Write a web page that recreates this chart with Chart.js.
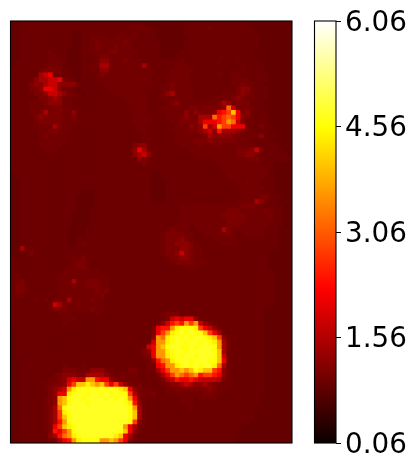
<!DOCTYPE html>
<html>
<head>
<meta charset="utf-8">
<script src="https://cdn.jsdelivr.net/npm/chart.js@4"></script>
<style>
  html, body { margin: 0; padding: 0; background: #fff; }
  #wrap { position: relative; width: 416px; height: 470px; }
  canvas { position: absolute; left: 0; top: 0; }
</style>
</head>
<body>
<div id="wrap">
  <canvas id="heat" width="416" height="470"></canvas>
  <canvas id="bar" width="416" height="470"></canvas>
</div>
<script>
// value levels used by the letters in heatRows
const levelKeys = "abcdefghijklmnopq";
const levelValues = [0.8, 0.87, 0.93, 1.0, 1.08, 1.22, 1.45, 1.75, 2.1, 2.4, 2.8, 3.2, 3.6, 4.0, 4.4, 4.6, 4.75];
const barTicks = [0.06, 1.56, 3.06, 4.56, 6.06];
const vMin = 0.06, vMax = 6.06;
const nCols = 60, nRows = 90;

// one string per row, 60 cells, split in groups of 10
const heatRows = [
"bbcccccccc cccccccccc ccccccccbb bbbbbbbccc cccccccccc cbbbbbbbbb",
"bbcccccccc cccccccccc ccccccdddc cbbbbbbccc ccdccccccc ccbbbbbbbb",
"bbcccccccc cccbbccccc cccdccdccc cbbbbbbccc cccccccccc ccbbbbbbbb",
"bbcccccccc cccbbccddd dcdddddccc cbbbbbbbcc cccccccccc cccbbbbbbb",
"bbcccccccc cccbbccded ddddedcccc ccbbbbbccc cccccccccc cccbbbbbbb",
"bbcccccccc cccbbccded ddedddcccc ccbbbbbccc cccccccccc cccbbbbbbb",
"bbccccccdc ccbbbccddd deeddddccc ccbbbbcccc cccccccccc ccbbbbbbbb",
"bbccccccdd ccbbbcccde edddddcccc ccbbbccccc cccccdcccc ccbbbbbbbb",
"bcccccccdd dcbbbcccdf fdddedddcc ccccccdccc ccccdcccdc cccbbbbbbb",
"bccccccddd dcbbbccddg gdddddddgd cccccdddcc cccccccccd ccccbbbbbb",
"ccccccdeee dccbbccdcf fdddddddcd ccccdddddc cccccccccd ccccbbbbbb",
"ccccccghid dccbbcccde dddddddddd ccccddddcc ccccdccddc cccccbbbbb",
"cccccfgghh iedcbccccd dddddddddd cccdddddcc cccccccddd dccccbbbbb",
"cccceffghh ffffdccccc dddddddddd cccdedddcc cccccccdde ddccbbbbbb",
"cccceefiih fddcbccccc cdddddddcc ccddeddddc ccccccccef fdcccbbbbb",
"ccccceefhh gfddcbcccc ccdddddddc ccdfgddddc cccccdddef edcccbbbbb",
"cccccceefg fddccccccc ccccdddddc ccdddddddc cccddddefe ddcccbbbbb",
"ccccdddeff fddccccccc cccccddddc cccdefdddd ddddegfdee ecccbbbbbb",
"ccccddddde eddccccccc ccccccdddc ccddddddee deeeeflhed edcccbbbbb",
"ccccddegee eddfcccccc ccccccdddc cccddddfdf eeefijknie fdcccbbbbb",
"cccccefeee eddecccccc ccccccdddd cccdddefed gggljklkif edcccbbbbb",
"cccccdeeee eddddccccc ccccccdddd ccccddeede giiijkmlhe ddcccbbbbb",
"cccccddddg eddccccccc cccccccddc cccccdddfe fkghmkkiii dcceccbbbb",
"ccccccddee dddccccccc cccccccddc ccccddddee fghfjgggfe ddcccbbbbb",
"ccccccdedd ddcccccccc ccccccccdc cccccddddd degffffeed dddfcccbbb",
"ccccccdddd ddcccccccc ccccccccdd cccccdddde eefeeeeedd dcccccbbbb",
"ccccccdddd dccccccccc cccccceffd ccccccdddd eddeeddddd ddcccccbbb",
"cccccccddd cccccccccc ccccccfigd ccccccccdd ddddddddee efheccccbb",
"cccccccccc cccccccccc ccccccfghf cccccccccd ddddddddee ffdccccccb",
"cccccccccc cccccccccc cccccccfed cccccccccc cccddddddd deedcccccc",
"cccccccccc cccccccccc ccccccccec cccccccccc ccccdddddd dddcccbbbb",
"cccccccccc cccccccccc cccccccccc cccccccccc cccccddddd dddddcbbbb",
"bccccccccc cccccccccc cccccccccc bbcccccccc ccccccdddd dddddcbbbb",
"bccccccccc cccccccccc cccccccccc bbcccccccc ccccccdddc ddddccbbbb",
"bbcccccccc cccccccccc cccccccccc bbbccccccc ccccccccdd dddcccbbbb",
"bbcccccccc cccccccccc cccccccccc bbbccccccc cccccccccd ddddccbbbb",
"bbcccccccc cccccbbbcc cccccccccc bbbccccccc cccccccccd dddcccbbbb",
"bbcccccccc ccccbbbbcc cccccccccc bbbccccccc cccccccccd dddeecccbb",
"bbcccccccc ccccbbbbcc cccccccccc bbbccccccc ccccccccdd ddgfdccbbb",
"bbcccccccc ccccbbbbcc cccccccccc ccccccdddd ddddddddde eeddccccbb",
"bbcccccccc ccccbbbccc cccccccccc ccccccdddd ddddddeeed ddddedccbb",
"bbcccccccc cccbbbbccc cccccccccc ccccccdddd dddddeeeee dddddeccbb",
"bbcccccccc cccbbbbccc cccccccccc ccccccdddd ddddddeeee ddddddccbb",
"bbcccccccc cccbbbbccc cccccccccc cccccdddcd ddddddeeed dddddcccbb",
"bbcccccccc ccbbbbcccc cccccccccc cccdedddcc dddddgeddd ddddcccbbb",
"bbcccccccc ccbbbbcccc cccccccccc ccdeeeeddc cdddddedcc ddddcccbbb",
"bbcccccccc ccbbcccccc cccccccccc ccdeeefedc cccdddddcc cccccccbbb",
"bbbccccccc ccbbcdcccc cccccccccc ccdeefffed cccccdddcc cccccccbbb",
"bbgcdccccc cccccccccc cccccccccc ccdeeeffed dccccccccc cccccccbbb",
"bbcceccccc cccccccccc cccccccccc ccdeefhfed dccccccccc cccccbbbbb",
"cbcccccccc cccddecccc cccccccccc cccdeeffed dccccccccc cccccbbbbb",
"cccccccccc cccdeedccc cccccccccc ccccdeeeed ddcccccccc cccccbbbbb",
"cccccccccc ccddeedccc cccccccccc cccccccddd cccccccccc cccccbbbbb",
"cccccccccc cddddddddc cccccccccc cccccccccc cccccccccc ccccccbbbb",
"cdcccccccc dddddddddd dccccccccc cccccccccc cccccccccc ccccccbbbb",
"cdeccccccc dddgddeeed dccccccccc cccccccccc cccccccccc ccccccbbbb",
"ceeccccccc dddeddeeed dccccccccc cccccccccc cccccccccc ccccccbbbb",
"ceedcccccc dddddddded eccccccccc cccccccccc cccccccccc ccccccbbbb",
"cddccccccc ddddddddde cccccccccc cccccccccc cccccccccc ccccccbbbb",
"cccccdcdcd ddgddddedd cccccccccc cccccccccc cccccccccc ccccccbbbb",
"ccccccccdh geddeddddd cccccccccc cccccccccc cccccccccc ccccccbbbb",
"ccccccccde eedddddedd cccccccccc cccccccccc cccccccccc ccccbbbbbb",
"cccccccccc dddcccccdc cccccccccc ccdeeecccc cccccccccc ccccbbbbbb",
"cccccccccc cdddcccccc cccccccccc ccdehihiif ddcccccccc ccccbbbbbb",
"cccccccccc cdcccccccc cccccccccc cdfhjkjmkm hfedcccccc ccccbbbbbb",
"bccccccccc cccccccccc cccccccccc eijjmopppo kihfdccccc ccccbbbbbb",
"bccccccccc cccccccccc cccccccccc eikmopqpqp pnkigdcccc ccccbbbbbb",
"bccccccccc cccccccccc cccccccccc fmlopqpqpq qponkfdccc ccccbbbbbb",
"bccccccccc cccccccccc cccccccccd hmmopqqpqq pqpomgdccc ccccbbbbbb",
"bccccccccc cccccccccc ccccccccdh imnpqqppqp qqqpmgdccc ccccbbbbbb",
"bccccccccc cccccccccc cccccccdef immopqqpqq qqqpngdccc ccccbbbbbb",
"bccccccccc cccccccccc ccccccccde immopqpqqp qqqpnhdccc ccccbbbbbb",
"bbcccccccc cccccccccc cccccccccd fjlmopqqpq qqppnidccc ccccbbbbbb",
"bbcccccccc cdcccdcccc cccccccccd dijmmopqpq pqqolgdccc ccccbbbbbb",
"bbcccccccc ceeedddfff ddccceeccd dgikmmnmnp onnkjfdccc ccccbbbbbb",
"bbcccccccd efffeegggg fedddddccc cdgikmlklm jkkjifdccc ccccbbbbbb",
"bbccccccdd efhihhmmji ifeddddccc cdeghjiiji hhhhgedccc ccccbbbbbb",
"bbcccccdde efiknnonmn kikhfeddcc ccdeffghgf fgfedddccc ccccbbbbbb",
"bbcccccdef ghmopqpqpq pqponifedd cccddeeeee eefeddcccc ccccbbbbbb",
"bbccccccef iiopqqpqqp qpqppkgedd eccddddddd deeddccccc cccbbbbbbb",
"bbcccccdef mnpqqpqqqq qqpqpmiedc dcccccdddc ddddcccccc cccbbbbbbb",
"bbcccccdef mnpqqqpqqq qqqqpojfdc ccccccdddc cccccccccc cccbbbbbbb",
"bbcccccdeg lpqqqqqqqq qqqqqpmgdc ccccccccdc cccccccccc ccbbbbbbbb",
"bbcccccdeg kopqqqqqqq qqqqqpngdc cccccccccc cccccccccc ccbbbbbbbb",
"bbcccccdeg knpqqqqqqq qqqqqpngdc cccccccccc cccccccccc ccbbbbbbbb",
"bbcccccdeg jmpqqqqqqq qqqqqpkfdc cccccccccc cccccccccc cbbbbbbbbb",
"bbcccccdei knopqqqqqq qqqqmigdcc cccccccccc cccccccccb bbbbbbbbbb",
"bbcccccdej ikmpqqqqqq qqqpnifdcc cccccccccc cccccccccb bbbbbbbbbb",
"bbccccccfg jlmopqqqqq qqonigdccc cccccccccc ccccccccbb bbbbbbbbbb",
"bbccccccde gijmoppppm mnmkifdccc cccccccccc ccccccccbb bbbbbbbbbb"
];

// matplotlib "hot" colormap
function hot(v) {
  const t = Math.min(1, Math.max(0, (v - vMin) / (vMax - vMin)));
  const r = Math.min(1, 0.0416 + t / 0.365079 * 0.9584);
  const g = Math.min(1, Math.max(0, (t - 0.365079) / 0.380952));
  const b = Math.min(1, Math.max(0, (t - 0.746032) / 0.253968));
  return `rgb(${Math.round(r * 255)},${Math.round(g * 255)},${Math.round(b * 255)})`;
}

// squares overlap to hide seams, so centres move by half of the overlap
const cellShift = 0.118;
const cells = [];
heatRows.forEach((line, r) => {
  line.replace(/ /g, "").split("").forEach((ch, c) => {
    cells.push({ x: c + 0.5 + cellShift, y: r + 0.5 + cellShift, v: levelValues[levelKeys.indexOf(ch)] });
  });
});

// plot background and black frame around the chart area
const framePlugin = {
  id: "frame",
  beforeDatasetsDraw(chart, args, opts) {
    if (!opts.fill) return;
    const a = chart.chartArea;
    chart.ctx.fillStyle = opts.fill;
    chart.ctx.fillRect(a.left, a.top, a.width, a.height);
  },
  afterDatasetsDraw(chart) {
    const a = chart.chartArea, ctx = chart.ctx;
    ctx.save();
    ctx.strokeStyle = "#000";
    ctx.lineWidth = 1.1;
    ctx.strokeRect(a.left, a.top, a.width, a.height);
    ctx.restore();
  }
};

new Chart(document.getElementById("heat").getContext("2d"), {
  type: "scatter",
  data: {
    datasets: [{
      data: cells,
      pointStyle: "rect",
      pointRadius: 4.1,
      pointBorderWidth: 0,
      pointBackgroundColor: ctx => hot(ctx.raw.v)
    }]
  },
  options: {
    responsive: false,
    animation: false,
    layout: { padding: { left: 10.5, top: 21, right: 124, bottom: 27 } },
    scales: {
      x: { type: "linear", min: 0, max: nCols, display: false },
      y: { type: "linear", min: 0, max: nRows, reverse: true, display: false }
    },
    plugins: { legend: { display: false }, tooltip: { enabled: false }, frame: { fill: "#6c0000" } }
  },
  plugins: [framePlugin]
});

function barGradient(ctx) {
  const chart = ctx.chart, a = chart.chartArea;
  if (!a) return "#000";
  const g = chart.ctx.createLinearGradient(0, a.bottom, 0, a.top);
  for (let i = 0; i <= 64; i++) {
    g.addColorStop(i / 64, hot(vMin + (vMax - vMin) * i / 64));
  }
  return g;
}

new Chart(document.getElementById("bar").getContext("2d"), {
  type: "bar",
  data: {
    labels: ["scale"],
    datasets: [{
      data: [[vMin, vMax]],
      backgroundColor: barGradient,
      borderWidth: 0,
      barPercentage: 1,
      categoryPercentage: 1
    }]
  },
  options: {
    responsive: false,
    animation: false,
    layout: { padding: { left: 314.5, top: 21, right: 0, bottom: 27 } },
    scales: {
      x: { display: false },
      y: {
        position: "right",
        min: vMin,
        max: vMax,
        afterFit: s => { s.width = 80; },
        afterBuildTicks: s => { s.ticks = barTicks.map(v => ({ value: v })); },
        border: { display: false },
        grid: { drawOnChartArea: false, drawTicks: true, tickLength: 5, tickColor: "#000", tickWidth: 1 },
        ticks: {
          color: "#000",
          padding: 4,
          // empty first line with a small line height pushes the digits down a little
          font: { family: "DejaVu Sans", size: 27.78, lineHeight: "5px" },
          callback: v => ["", v.toFixed(2)]
        }
      }
    },
    plugins: { legend: { display: false }, tooltip: { enabled: false } }
  },
  plugins: [framePlugin]
});
</script>
</body>
</html>
